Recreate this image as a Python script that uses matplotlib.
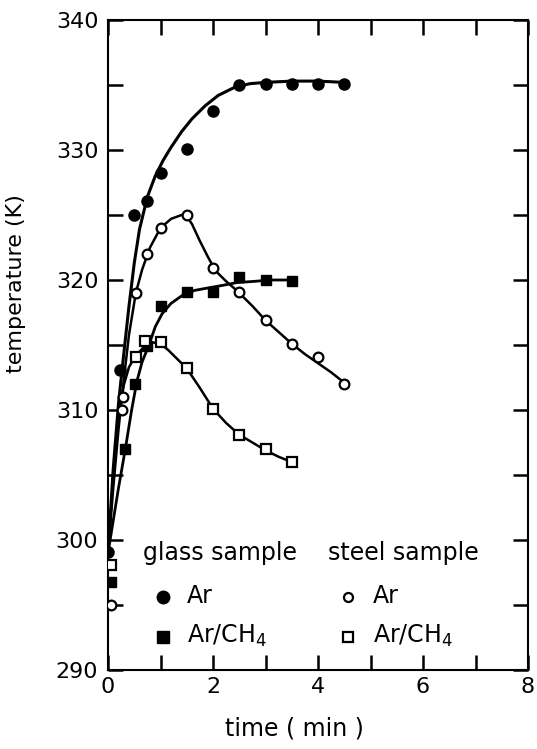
import numpy as np
import matplotlib
matplotlib.use("Agg")
import matplotlib.pyplot as plt
from matplotlib.ticker import MultipleLocator

plt.rcParams['font.family'] = ['DejaVu Sans']
plt.rcParams['mathtext.default'] = 'regular'

# measured points (time in min, temperature in K)
glass_ar_t = [0.0, 0.22, 0.5, 0.75, 1.0, 1.5, 2.0, 2.5, 3.0, 3.5, 4.0, 4.5]
glass_ar_T = [299.1, 313.1, 325.0, 326.1, 328.2, 330.1, 333.0, 335.0, 335.1, 335.1, 335.1, 335.1]

steel_ar_t = [0.05, 0.27, 0.29, 0.53, 0.75, 1.0, 1.5, 2.0, 2.5, 3.0, 3.5, 4.0, 4.5]
steel_ar_T = [295.0, 310.0, 311.0, 319.0, 322.0, 324.0, 325.0, 320.9, 319.1, 316.9, 315.1, 314.1, 312.0]

glass_ch4_t = [0.05, 0.33, 0.52, 0.75, 1.0, 1.5, 2.0, 2.5, 3.0, 3.5]
glass_ch4_T = [296.8, 307.0, 312.0, 314.9, 318.0, 319.1, 319.1, 320.2, 320.0, 319.9]

steel_ch4_t = [0.05, 0.53, 0.7, 1.0, 1.5, 2.0, 2.5, 3.0, 3.5]
steel_ch4_T = [298.1, 314.1, 315.3, 315.2, 313.2, 310.1, 308.1, 307.0, 306.0]

# hand-drawn fit curves
glass_ar_ct = [0.0, 0.1, 0.2, 0.3, 0.4, 0.5, 0.6, 0.75, 0.9, 1.05, 1.2, 1.4, 1.6, 1.85, 2.1, 2.4, 2.7, 3.0, 3.5, 4.0, 4.5]
glass_ar_cT = [299.0, 305.5, 310.5, 314.3, 318.0, 321.3, 323.9, 326.4, 328.0, 329.2, 330.2, 331.4, 332.4, 333.4, 334.2, 334.8, 335.1, 335.2, 335.3, 335.3, 335.2]

steel_ar_ct = [0.0, 0.1, 0.2, 0.3, 0.4, 0.53, 0.65, 0.8, 1.0, 1.2, 1.4, 1.5, 1.6, 1.75, 1.9, 2.05, 2.25, 2.45, 2.75, 3.0, 3.25, 3.5, 3.75, 4.0, 4.25, 4.5]
steel_ar_cT = [299.0, 304.0, 308.5, 312.3, 315.8, 319.0, 320.8, 322.5, 324.0, 324.7, 325.0, 324.9, 324.3, 323.0, 321.8, 320.7, 319.9, 319.2, 318.0, 316.9, 316.0, 315.1, 314.3, 313.6, 312.9, 312.1]

glass_ch4_ct = [0.0, 0.1, 0.2, 0.33, 0.45, 0.55, 0.65, 0.78, 0.9, 1.03, 1.2, 1.41, 1.65, 1.92, 2.2, 2.45, 2.8, 3.1, 3.5]
glass_ch4_cT = [299.0, 301.5, 304.0, 307.0, 310.0, 312.2, 313.7, 315.0, 316.4, 317.4, 318.2, 318.8, 319.2, 319.4, 319.6, 319.8, 319.9, 320.0, 320.0]

steel_ch4_ct = [0.0, 0.1, 0.2, 0.3, 0.4, 0.53, 0.7, 0.85, 1.0, 1.15, 1.3, 1.5, 1.75, 2.0, 2.25, 2.5, 2.75, 3.0, 3.25, 3.5]
steel_ch4_cT = [299.0, 305.0, 309.3, 311.9, 313.3, 314.2, 314.9, 315.2, 315.1, 314.6, 314.0, 313.2, 311.7, 310.1, 309.0, 308.1, 307.5, 306.9, 306.4, 306.0]

fig = plt.figure(figsize=(5.37, 7.49), dpi=100)
ax = fig.add_axes([108 / 537, 1 - 670 / 749, 420 / 537, 650 / 749])

lc = 'black'
ax.plot(glass_ar_ct, glass_ar_cT, color=lc, lw=2.2, solid_capstyle='round')
ax.plot(steel_ar_ct, steel_ar_cT, color=lc, lw=1.8, solid_capstyle='round')
ax.plot(glass_ch4_ct, glass_ch4_cT, color=lc, lw=2.0, solid_capstyle='round')
ax.plot(steel_ch4_ct, steel_ch4_cT, color=lc, lw=1.8, solid_capstyle='round')

ax.plot(glass_ar_t, glass_ar_T, 'o', color=lc, ms=8, zorder=3)
ax.plot(steel_ar_t, steel_ar_T, 'o', mfc='white', mec=lc, mew=1.6, ms=7, zorder=3)
ax.plot(glass_ch4_t, glass_ch4_T, 's', color=lc, ms=7.5, zorder=3)
ax.plot(steel_ch4_t, steel_ch4_T, 's', mfc='white', mec=lc, mew=1.6, ms=7, zorder=3)

ax.set_xlim(0, 8)
ax.set_ylim(290, 340)
ax.xaxis.set_major_locator(MultipleLocator(2))
ax.xaxis.set_minor_locator(MultipleLocator(1))
ax.yaxis.set_major_locator(MultipleLocator(10))
ax.yaxis.set_minor_locator(MultipleLocator(5))
ax.tick_params(which='both', direction='in', top=True, right=True,
               length=11, width=1.8, labelsize=16)
ax.tick_params(axis='x', pad=5)
ax.tick_params(axis='y', pad=7)
for s in ax.spines.values():
    s.set_linewidth(1.5)

ax.set_xlabel('time ( min )', fontsize=17)
ax.set_ylabel('temperature (K)', fontsize=16)
ax.xaxis.set_label_coords(0.445, -0.072)
ax.yaxis.set_label_coords(-0.195, 0.595)

# legend drawn by hand
tr = ax.transAxes
ax.text(0.083, 0.169, 'glass sample', transform=tr, fontsize=17, va='baseline')
ax.text(0.524, 0.169, 'steel sample', transform=tr, fontsize=17, va='baseline')
ax.plot([0.131], [0.112], 'o', color=lc, ms=9, transform=tr, clip_on=False)
ax.plot([0.571], [0.112], 'o', mfc='white', mec=lc, mew=1.6, ms=6.5, transform=tr, clip_on=False)
ax.plot([0.131], [0.051], 's', color=lc, ms=8, transform=tr, clip_on=False)
ax.plot([0.571], [0.051], 's', mfc='white', mec=lc, mew=1.6, ms=6.5, transform=tr, clip_on=False)
ax.text(0.188, 0.103, 'Ar', transform=tr, fontsize=17, va='baseline')
ax.text(0.631, 0.103, 'Ar', transform=tr, fontsize=17, va='baseline')
ax.text(0.188, 0.042, 'Ar/CH$_4$', transform=tr, fontsize=17, va='baseline')
ax.text(0.631, 0.042, 'Ar/CH$_4$', transform=tr, fontsize=17, va='baseline')

fig.savefig('out.png', dpi=100)
